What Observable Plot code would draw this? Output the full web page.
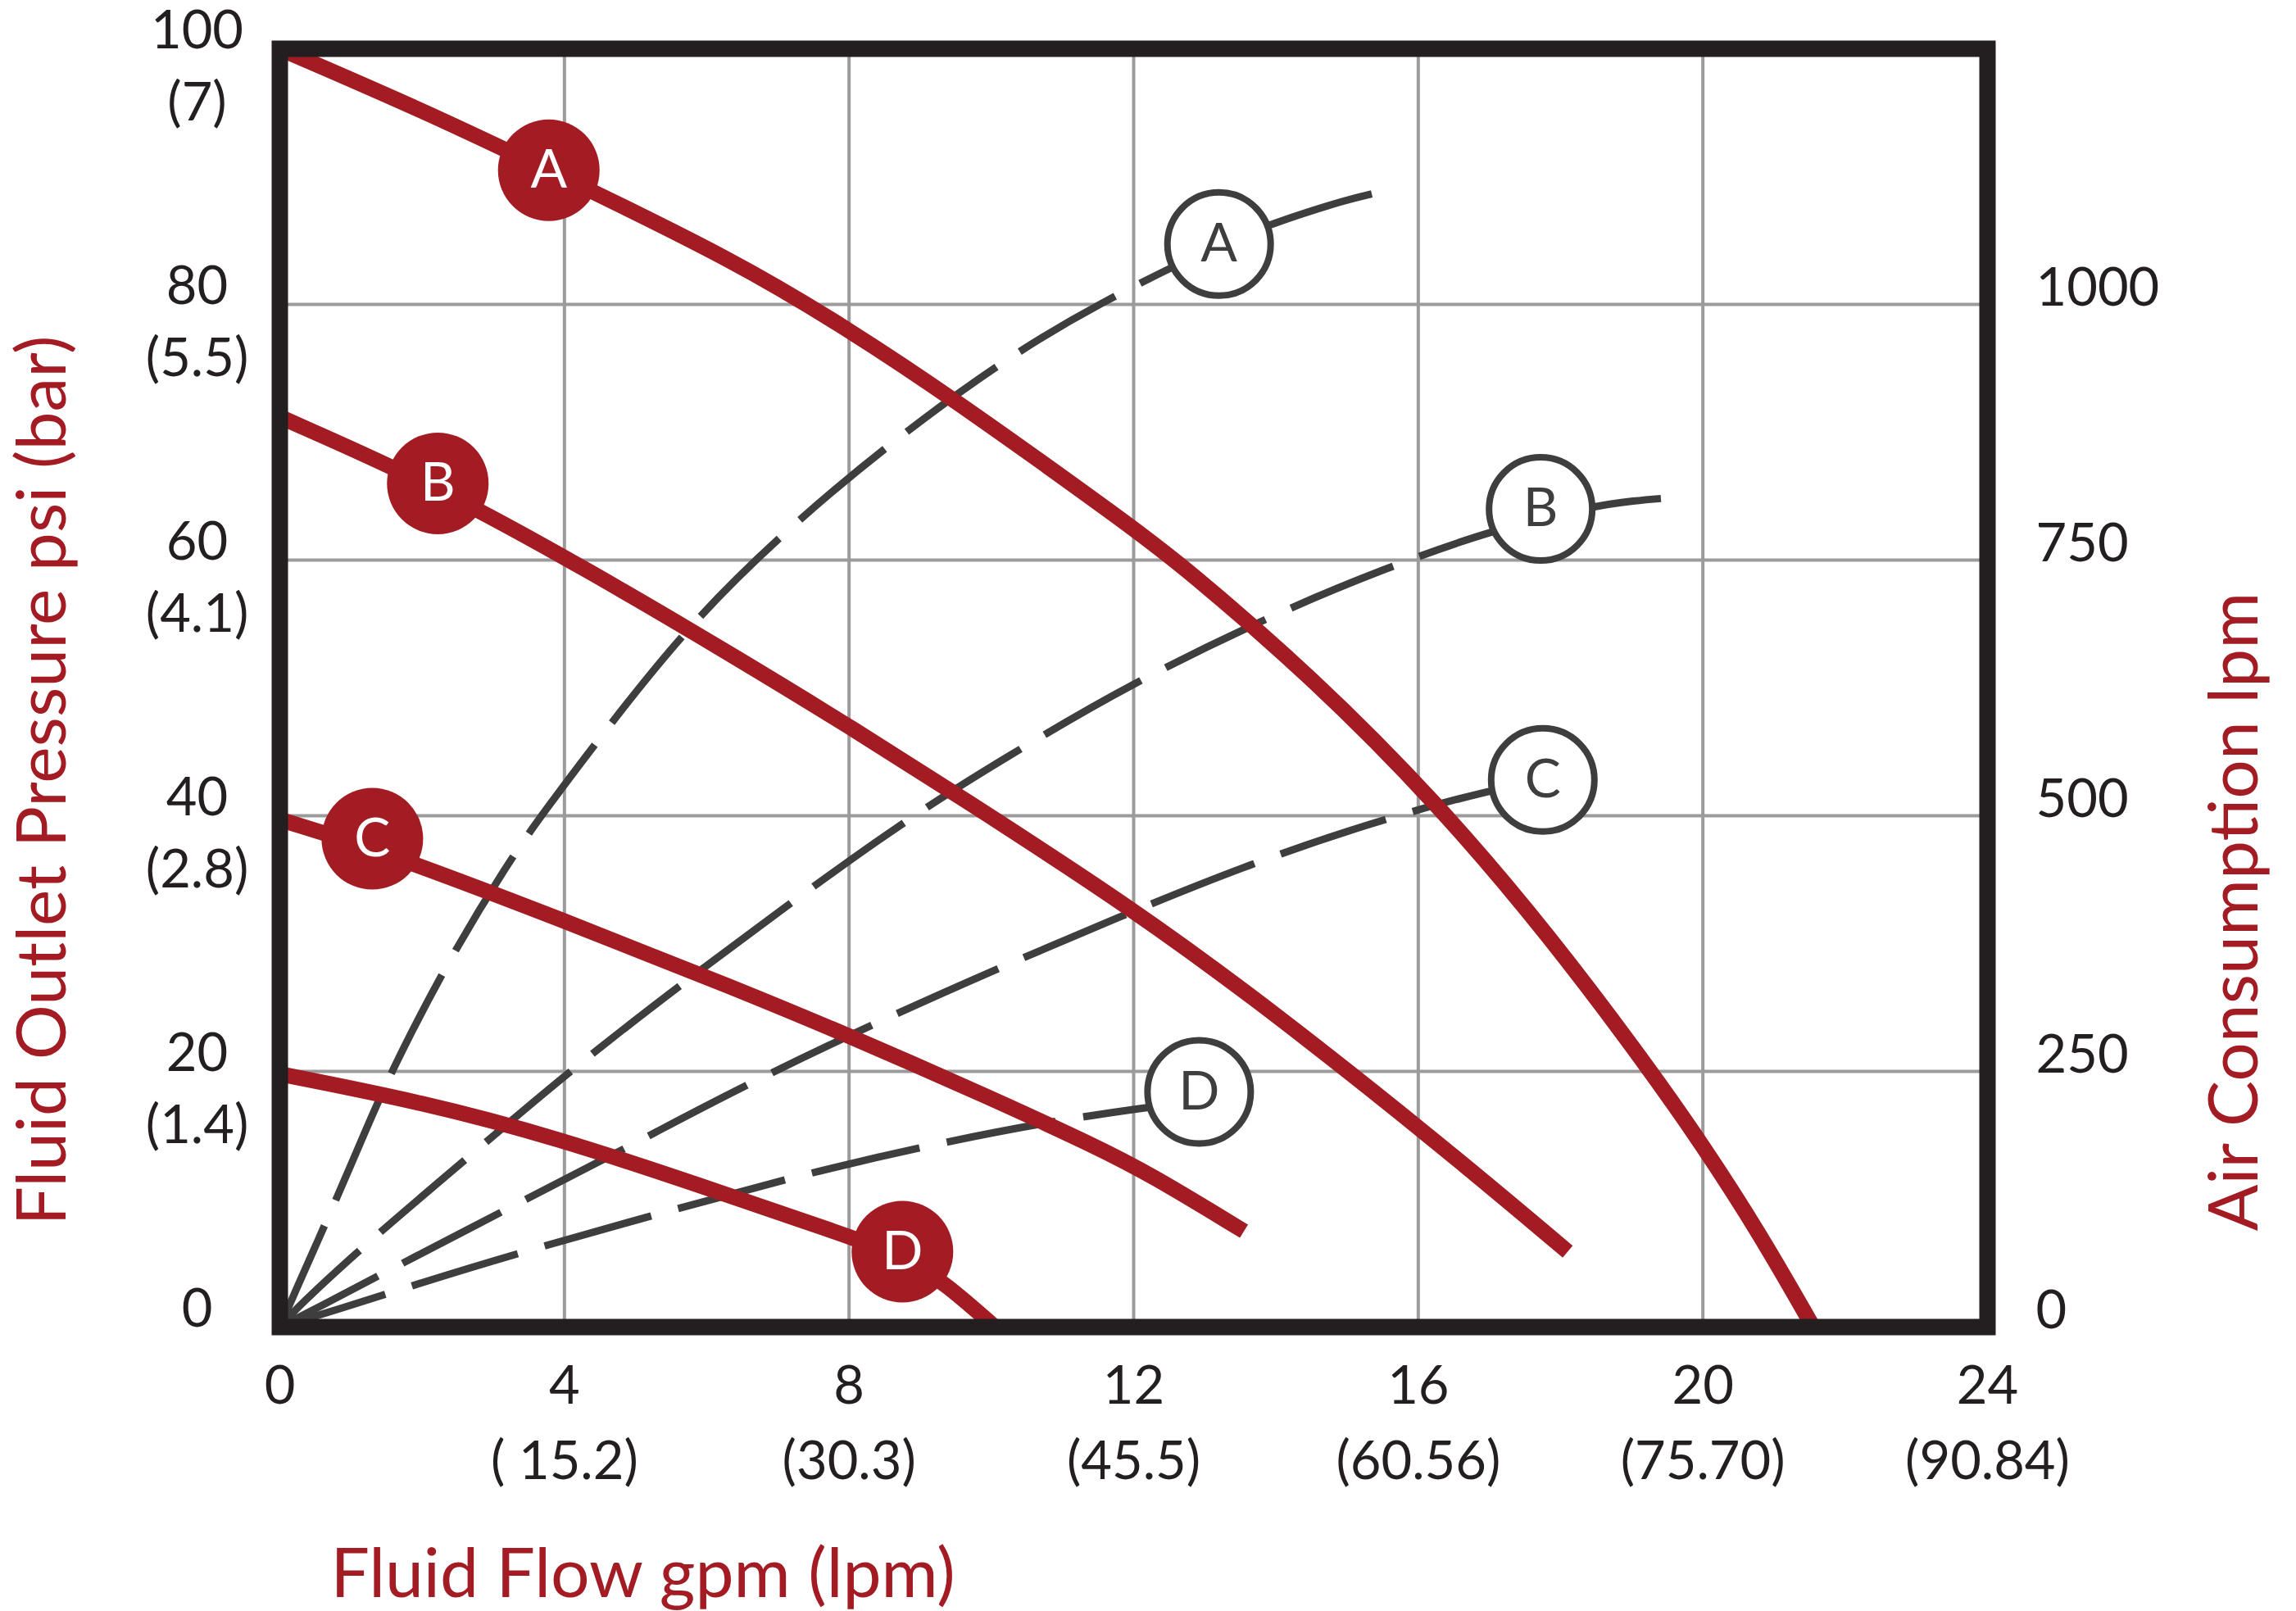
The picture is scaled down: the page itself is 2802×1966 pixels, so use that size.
<!DOCTYPE html>
<html>
<head>
<meta charset="utf-8">
<script src="https://cdn.jsdelivr.net/npm/d3@7"></script>
<script src="https://cdn.jsdelivr.net/npm/@observablehq/plot@0.6"></script>
<style>
  html, body { margin: 0; padding: 0; background: #ffffff; }
  #chart svg { display: block; }
</style>
</head>
<body>
<div id="chart"></div>
<script>
// ---- axis ticks and labels ----
const flowTicks = [0, 4, 8, 12, 16, 20, 24];                 // gpm
const flowLpmLabels = ["", "( 15.2)", "(30.3)", "(45.5)", "(60.56)", "(75.70)", "(90.84)"];
const psiTicks = [0, 20, 40, 60, 80, 100];
const barLabels = ["", "(1.4)", "(2.8)", "(4.1)", "(5.5)", "(7)"];
const airTicks = [0, 250, 500, 750, 1000];                   // lpm (right axis)
const lpmPerPsi = 12.5;                                       // right axis: 1000 lpm = 80 psi

// ---- fluid outlet pressure curves (psi vs gpm) ----
const pressA_gpm = [0, 2, 3.78, 6.44, 8, 9.37, 12, 12.7, 14.5, 16.3, 17.86, 19.22, 20, 20.8, 21.55];
const pressA_psi = [100, 95.2, 90.5, 83.3, 78.0, 73.0, 62.5, 59.5, 50.9, 40.8, 30.5, 20.4, 14.2, 7.3, 0];
const pressB_gpm = [0, 2.2, 4.4, 6.44, 8, 9.5, 12, 14, 16.35, 18.1];
const pressB_psi = [71.2, 65.8, 59.0, 52.3, 47.0, 41.7, 32.7, 24.5, 14.1, 5.9];
const pressC_gpm = [0, 1.3, 4, 6.44, 8, 10, 11.44, 12.22, 13.55];
const pressC_psi = [39.7, 37.5, 31.8, 26.4, 22.8, 17.9, 14.2, 12.0, 7.5];
const pressD_gpm = [0, 2, 3.9, 6, 7.4, 8.75, 9.4, 10.05];
const pressD_psi = [19.8, 17.6, 14.8, 10.9, 8.2, 5.7, 3.2, 0];

// ---- air consumption curves (lpm vs gpm) ----
const airA_gpm = [0, 0.18, 0.8, 1.1, 1.56, 2.42, 3.21, 3.67, 4.6, 5.79, 7.17, 8.64, 10.18, 11.5, 13.2, 13.9, 15.0, 15.6];
const airA_lpm = [0, 29, 126, 175, 250, 365, 454, 500, 586, 690, 783, 868, 946, 1001, 1059, 1078, 1103, 1112];
const airB_gpm = [0, 0.24, 1.2, 2.8, 4.0, 5.53, 8.64, 10.25, 11.95, 14.0, 15.5, 17.05, 18.47, 19.02, 19.55];
const airB_lpm = [0, 19, 81, 175, 246, 330, 490, 559, 629, 698, 741, 780, 803, 808, 811];
const airC_gpm = [0, 0.56, 1.52, 3.18, 4.58, 5.16, 6.44, 8.23, 10.0, 11.76, 13.52, 15.36, 17.05, 17.75];
const airC_lpm = [0, 20, 55, 115, 165, 186, 233, 293, 348, 400, 450, 494, 526, 534];
const airD_gpm = [0, 0.76, 1.97, 3.38, 5.59, 7.4, 9.0, 10.73, 12.2, 12.92];
const airD_lpm = [0, 16, 43, 73, 116, 150, 176, 200, 215, 221];

// ---- curve label badges ----
const curveNames = ["A", "B", "C", "D"];
const pressLabel_gpm = [3.78, 2.22, 1.3, 8.75];
const pressLabel_psi = [90.5, 66.0, 38.2, 5.9];
const airLabel_gpm = [13.2, 17.72, 17.75, 12.92];
const airLabel_lpm = [1059, 800, 535, 230];

// ---- titles ----
const xTitle = "Fluid Flow gpm (lpm)";
const yTitle = "Fluid Outlet Pressure psi (bar)";
const y2Title = "Air Consumption lpm";

// ---- build tables ----
const pressSets = [[pressA_gpm, pressA_psi], [pressB_gpm, pressB_psi], [pressC_gpm, pressC_psi], [pressD_gpm, pressD_psi]];
const airSets = [[airA_gpm, airA_lpm], [airB_gpm, airB_lpm], [airC_gpm, airC_lpm], [airD_gpm, airD_lpm]];
const pressRows = pressSets.flatMap(([g, p], i) => g.map((v, j) => ({series: curveNames[i], gpm: v, psi: p[j]})));
const airRows = airSets.flatMap(([g, l], i) => g.map((v, j) => ({series: curveNames[i], gpm: v, lpm: l[j]})));
const pressLabels = curveNames.map((n, i) => ({series: n, gpm: pressLabel_gpm[i], psi: pressLabel_psi[i]}));
const airLabels = curveNames.map((n, i) => ({series: n, gpm: airLabel_gpm[i], lpm: airLabel_lpm[i]}));
const barRows = psiTicks.map((v, i) => ({psi: v, bar: barLabels[i]})).filter(d => d.bar);
const lpmRows = flowTicks.map((v, i) => ({gpm: v, lpm: flowLpmLabels[i]})).filter(d => d.lpm);

const RED = "#a31c23";
const DARK = "#3e3e3e";
const INK = "#231f20";
const GRID = "#9b9b9b";
const tickSize = 65;
const titleSize = 84;

const chart = Plot.plot({
  width: 2802,
  height: 1966,
  marginLeft: 341,
  marginRight: 377,
  marginTop: 59,
  marginBottom: 347,
  x: {domain: [0, 24], axis: null},
  y: {domain: [0, 100], axis: null},
  style: {fontFamily: "Lato, 'Open Sans', sans-serif", background: "#ffffff", overflow: "visible"},
  marks: [
    Plot.ruleX(flowTicks, {stroke: GRID, strokeWidth: 4}),
    Plot.ruleY(psiTicks, {stroke: GRID, strokeWidth: 4}),
    Plot.line(airRows, {x: "gpm", y: d => d.lpm / lpmPerPsi, z: "series", stroke: DARK, strokeWidth: 9,
      strokeDasharray: "135,34", strokeLinecap: "butt", curve: "basis"}),
    Plot.line(pressRows, {x: "gpm", y: "psi", z: "series", stroke: RED, strokeWidth: 19,
      strokeLinecap: "butt", curve: "basis"}),
    Plot.frame({stroke: INK, strokeWidth: 20}),
    // air consumption badges
    Plot.dot(airLabels, {x: "gpm", y: d => d.lpm / lpmPerPsi, r: 63, fill: "#ffffff", stroke: DARK, strokeWidth: 8}),
    Plot.text(airLabels, {x: "gpm", y: d => d.lpm / lpmPerPsi, text: "series", fill: DARK, fontSize: 66, lineAnchor: "middle"}),
    // pressure badges
    Plot.dot(pressLabels, {x: "gpm", y: "psi", r: 62, fill: RED}),
    Plot.text(pressLabels, {x: "gpm", y: "psi", text: "series", fill: "#ffffff", fontSize: 66, lineAnchor: "middle"}),
    // left axis labels
    Plot.text(psiTicks, {y: d => d, text: d => String(d), frameAnchor: "left", dx: -101, dy: -21,
      textAnchor: "middle", lineAnchor: "middle", fontSize: tickSize, fill: INK}),
    Plot.text(barRows, {y: "psi", text: "bar", frameAnchor: "left", dx: -101, dy: 67,
      textAnchor: "middle", lineAnchor: "middle", fontSize: tickSize, fill: INK}),
    // right axis labels
    Plot.text(airTicks, {y: d => d / lpmPerPsi, text: d => String(d), frameAnchor: "right", dx: 59, dy: -19,
      textAnchor: "start", lineAnchor: "middle", fontSize: tickSize, fill: INK}),
    // bottom axis labels
    Plot.text(flowTicks, {x: d => d, text: d => String(d), frameAnchor: "bottom", dy: 73,
      textAnchor: "middle", lineAnchor: "middle", fontSize: tickSize, fill: INK}),
    Plot.text(lpmRows, {x: "gpm", text: "lpm", frameAnchor: "bottom", dy: 165,
      textAnchor: "middle", lineAnchor: "middle", fontSize: tickSize, fill: INK}),
    // titles
    Plot.text([xTitle], {text: d => d, frameAnchor: "bottom", dx: -599, dy: 303,
      textAnchor: "middle", lineAnchor: "middle", fontSize: titleSize, fill: RED}),
    Plot.text([yTitle], {text: d => d, frameAnchor: "left", rotate: -90, dx: -288, dy: 113,
      textAnchor: "middle", lineAnchor: "middle", fontSize: titleSize, fill: RED}),
    Plot.text([y2Title], {text: d => d, frameAnchor: "right", rotate: -90, dx: 303, dy: 273,
      textAnchor: "middle", lineAnchor: "middle", fontSize: titleSize, fill: RED})
  ]
});
document.getElementById("chart").appendChild(chart);
</script>
</body>
</html>
